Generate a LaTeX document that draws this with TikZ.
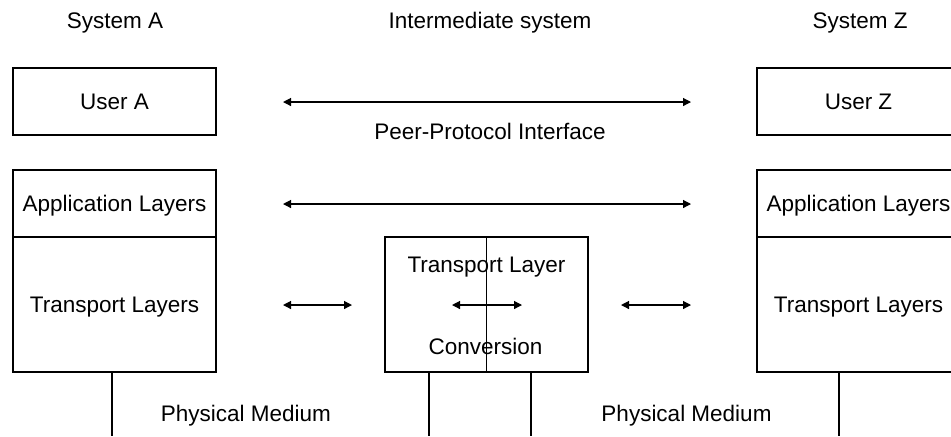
\documentclass[tikz,border=0pt]{standalone}
\usepackage{fontspec}
\setmainfont{Liberation Sans}
\usetikzlibrary{arrows.meta}
\begin{document}
\begin{tikzpicture}[x=0.5pt,y=-0.5pt,
  every node/.style={font=\fontsize{11.25}{13}\selectfont, text height=8.05pt, text depth=0pt, inner sep=0pt},
  layerbox/.style={draw, line width=0.55pt, minimum width=101.5pt},
  shortbox/.style={layerbox, minimum height=33.5pt},
  tallbox/.style={layerbox, minimum height=67.5pt},
  label/.style={},
  link/.style={line width=0.6pt, {Triangle[length=4pt,width=4pt]}-{Triangle[length=4pt,width=4pt]}},
  wire/.style={line width=0.55pt}]
\useasboundingbox (0,0) rectangle (951,436);
\clip (0,0) rectangle (951,436);

% column headings
\node[label] (hA) at (115,20) {System A};
\node[label] (hI) at (490,20) {Intermediate system};
\node[label] (hZ) at (860,20) {System Z};

% end system A
\node[shortbox] (userA) at (114.5,101.5) {User A};
\node[shortbox] (appA)  at (114.5,203.5) {Application Layers};
\node[tallbox]  (trA)   at (114.5,304.5) {Transport Layers};

% end system Z
\node[shortbox] (userZ) at (858.5,101.5) {User Z};
\node[shortbox] (appZ)  at (858.5,203.5) {Application Layers};
\node[tallbox]  (trZ)   at (858.5,304.5) {Transport Layers};

% intermediate conversion box
\node[tallbox] (mid) at (486.5,304.5) {};
\draw[wire] (mid.north) -- (mid.south);
\node[label] (midT) at (486.5,264) {Transport Layer};
\node[label] (midC) at (485.5,346) {Conversion};

% peer-to-peer interfaces
\coordinate (u1) at (283,102); \coordinate (u2) at (691,102);
\draw[link] (u1) -- (u2);
\node[label] (ppi) at (490,131) {Peer-Protocol Interface};
\coordinate (a1) at (283,204); \coordinate (a2) at (691,204);
\draw[link] (a1) -- (a2);
\coordinate (t1) at (283,305); \coordinate (t2) at (352,305);
\draw[link] (t1) -- (t2);
\coordinate (t3) at (452,305); \coordinate (t4) at (522,305);
\draw[link] (t3) -- (t4);
\coordinate (t5) at (621,305); \coordinate (t6) at (691,305);
\draw[link] (t5) -- (t6);

% physical media
\coordinate (pA) at (112,436);
\coordinate (pM1) at (429,436);
\coordinate (pM2) at (531,436);
\coordinate (pZ) at (839,436);
\draw[wire] (trA.south -| pA) -- (pA);
\draw[wire] (mid.south -| pM1) -- (pM1);
\draw[wire] (mid.south -| pM2) -- (pM2);
\draw[wire] (trZ.south -| pZ) -- (pZ);
\node[label] (pm1) at (246,413) {Physical Medium};
\node[label] (pm2) at (686.5,413) {Physical Medium};
\end{tikzpicture}
\end{document}
